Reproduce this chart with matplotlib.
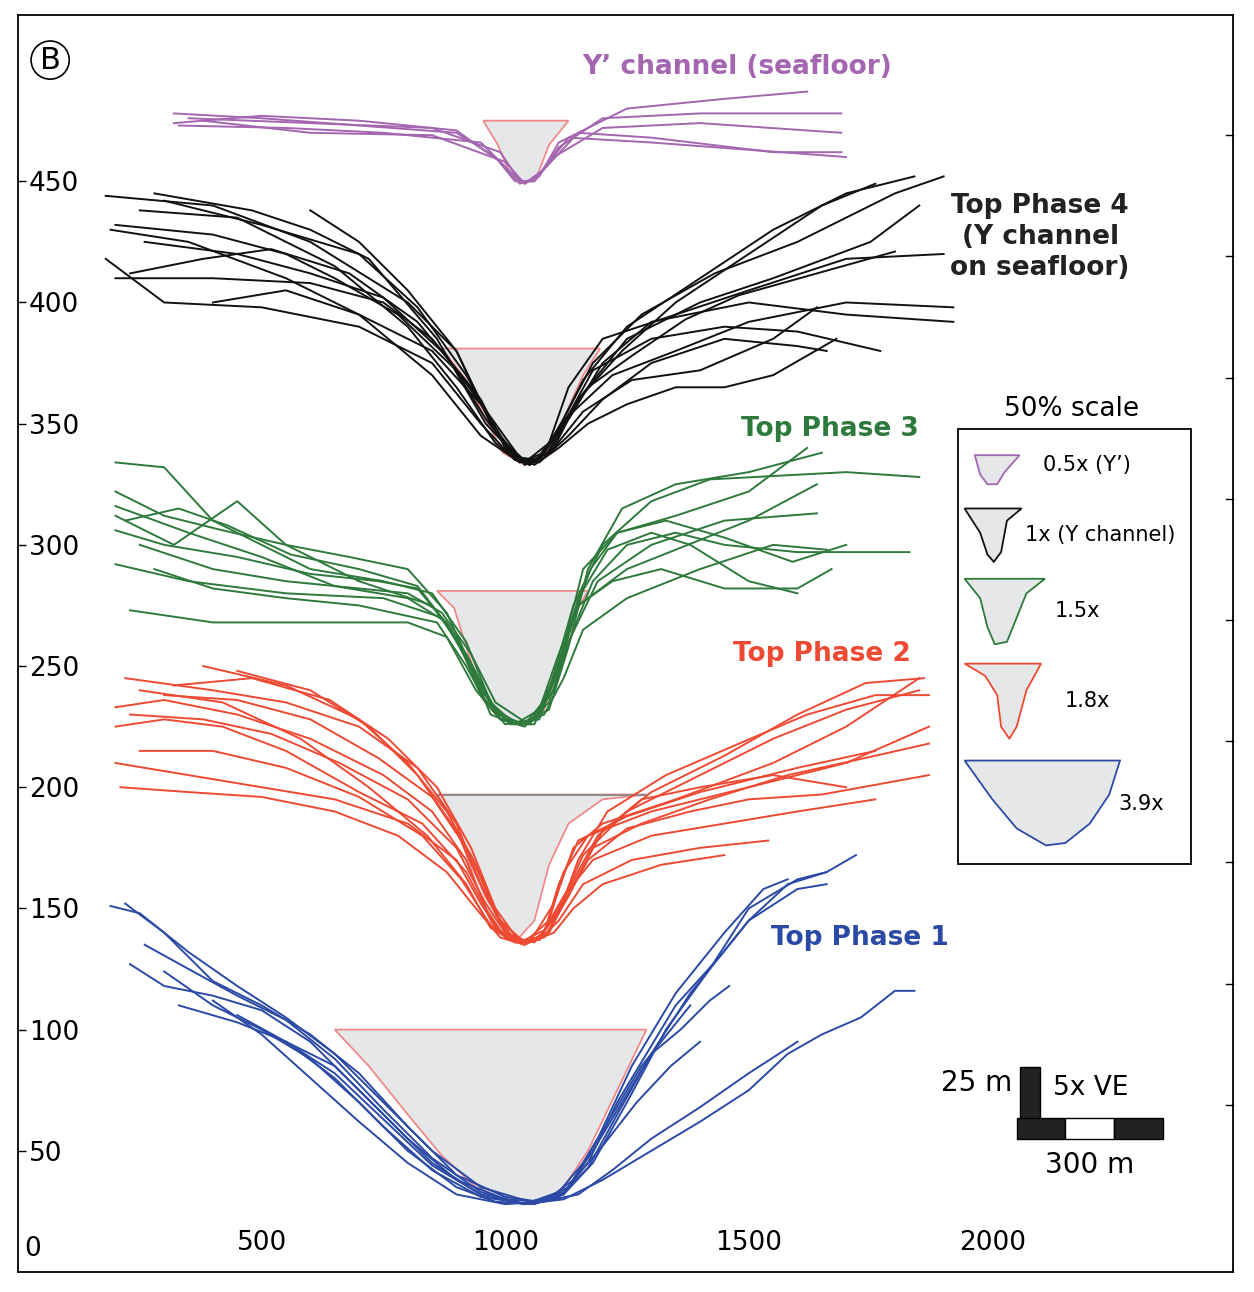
import matplotlib
matplotlib.use("Agg")
import matplotlib.pyplot as plt
from matplotlib.patches import Polygon, Rectangle

# ---------------- data ----------------
chan_yp = [(955,475),(985,465),(1010,453),(1040,449),(1065,452),(1090,465),(1130,475)]
chan_p4 = [(870,381),(920,368),(960,352),(995,338),(1040,333),(1085,338),(1120,352),(1160,370),(1195,381)]
chan_p3 = [(860,281),(895,274),(925,255),(955,236),(990,228),(1040,226),(1080,232),(1110,250),(1145,272),(1170,281)]
chan_p2 = [(860,197),(900,185),(940,160),(975,142),(1020,136),(1060,145),(1090,168),(1130,185),(1200,195),(1290,197)]
chan_p1 = [(650,100),(720,85),(800,65),(870,48),(940,35),(1010,29),(1060,28),(1110,32),(1170,50),(1230,75),(1290,100)]

yp_curves = [
 [(320,478),(500,476),(700,473),(900,470),(980,460),(1020,450),(1060,450),(1100,460),(1200,472),(1400,474),(1690,470)],
 [(320,474),(500,477),(700,475),(900,471),(990,458),(1030,449),(1070,452),(1110,466),(1250,480),(1450,484),(1620,487)],
 [(330,473),(550,472),(750,470),(950,466),(1010,454),(1040,449),(1075,454),(1130,468),(1300,466),(1500,463),(1700,460)],
 [(350,476),(600,474),(850,472),(990,462),(1030,450),(1060,450),(1110,464),(1200,476),(1400,478),(1690,478)],
 [(380,475),(600,470),(850,469),(1000,458),(1040,449),(1080,455),(1150,470),(1300,468),(1550,462),(1690,462)],
]
p4_curves = [
 [(180,444),(400,440),(600,425),(800,400),(900,380),(960,355),(1010,337),(1050,333),(1100,340),(1150,360),(1250,385),(1400,400),(1550,410),(1750,425),(1850,440)],
 [(200,410),(400,410),(600,408),(750,400),(850,385),(950,360),(1000,340),(1040,334),(1090,342),(1130,365),(1200,385),(1350,395),(1500,405),(1700,418),(1900,420)],
 [(190,430),(350,425),(550,410),(700,395),(850,370),(950,345),(1030,334),(1080,338),(1140,355),(1220,370),(1350,380),(1500,392),(1700,400),(1920,398)],
 [(250,438),(450,435),(650,415),(800,390),(900,365),(980,342),(1030,334),(1070,336),(1110,348),(1160,368),(1250,390),(1400,410),(1550,430),(1700,445),(1840,452)],
 [(180,418),(300,400),(500,398),(700,390),(850,375),(950,350),(1020,335),(1060,334),(1120,350),(1180,372),(1300,385),(1450,390),(1600,388),(1770,380)],
 [(300,442),(500,432),(700,420),(820,398),(920,370),(990,345),(1040,333),(1080,336),(1140,355),(1200,375),(1300,392),(1500,400),(1700,395),(1920,392)],
 [(260,425),(450,420),(600,412),(750,402),(880,378),(960,352),(1020,336),(1070,334),(1130,345),(1200,360),(1300,375),(1450,385),(1600,382),(1660,380)],
 [(400,400),(550,405),(700,395),(850,380),(950,358),(1010,338),(1050,333),(1100,340),(1160,355),(1260,368),(1400,372),(1550,385),(1640,398)],
 [(200,432),(400,428),(550,420),(650,410),(780,395),(900,372),(980,350),(1030,336),(1070,335),(1120,352),(1180,375),(1280,395),(1430,412),(1600,425),(1800,445),(1900,452)],
 [(230,412),(380,418),(520,422),(680,412),(820,392),(930,365),(1000,342),(1045,334),(1090,338),(1150,360),(1240,380),(1350,400),(1500,420),(1650,440),(1760,449)],
 [(280,445),(480,438),(600,430),(720,418),(860,385),(960,350),(1030,335),(1060,334),(1100,345),(1170,365),(1260,378),(1370,393),(1480,403),(1640,412),(1800,421)],
 [(600,438),(700,425),(800,405),(900,380),(970,350),(1020,337),(1060,333),(1110,340),(1170,350),(1250,358),(1350,365),(1450,365),(1550,370),(1680,385)],
]
p3_curves = [
 [(200,334),(300,332),(400,310),(500,300),(600,290),(750,285),(850,280),(920,260),(970,235),(1020,226),(1070,228),(1110,250),(1160,290),(1230,305),(1350,312),(1500,322),(1620,340)],
 [(200,316),(350,305),(500,295),(650,283),(800,278),(880,268),(940,245),(990,228),(1040,225),(1090,235),(1130,260),(1190,285),(1300,300),(1450,310),(1640,313)],
 [(200,312),(320,300),(450,318),(550,300),(700,285),(850,275),(920,255),(980,232),(1030,226),(1080,230),(1120,245),(1160,265),(1250,278),(1400,290),(1550,300),(1660,298)],
 [(200,292),(350,285),(550,280),(750,278),(870,270),(930,250),(970,230),(1020,226),(1070,232),(1110,255),(1150,275),(1250,290),(1400,302),(1500,310),(1640,325)],
 [(230,273),(400,268),(600,268),(800,268),(880,262),(940,240),(990,228),(1050,226),(1100,240),(1140,265),(1180,285),(1250,300),(1350,305),(1450,300),(1600,297),(1830,297)],
 [(200,306),(300,300),(450,295),(600,288),(740,285),(820,282),(890,265),(950,240),(1000,228),(1050,226),(1090,240),(1140,275),(1200,300),(1300,318),(1420,327),(1700,330),(1850,328)],
 [(200,322),(300,312),(420,306),(550,300),(680,295),(800,290),(880,272),(930,250),(985,230),(1040,226),(1090,238),(1130,265),(1175,290),(1230,305),(1330,310),(1450,303),(1590,293),(1700,300)],
 [(220,310),(330,315),(430,308),(560,296),(700,290),(820,283),(900,262),(950,238),(1010,226),(1060,226),(1110,248),(1150,278),(1210,298),(1300,305),(1380,300),(1500,285),(1600,280)],
 [(280,290),(400,282),(550,278),(700,275),(860,268),(920,250),(960,235),(1000,226),(1060,228),(1110,250),(1150,275),(1220,285),(1320,290),(1450,282),(1600,282),(1670,290)],
 [(250,300),(400,290),(550,285),(700,282),(800,280),(870,272),(930,255),(980,235),(1040,227),(1090,232),(1130,258),(1170,290),(1240,315),(1350,325),(1500,330),(1650,338)],
]
p2_curves = [
 [(200,233),(300,236),(450,230),(600,220),(750,205),(850,190),(920,170),(960,150),(1000,138),(1040,135),(1080,140),(1110,160),(1150,178),(1250,188),(1400,198),(1600,208),(1760,215)],
 [(200,210),(350,205),(500,200),(650,195),(800,185),(900,170),(950,152),(990,140),(1040,136),(1090,145),(1120,165),(1170,180),(1300,190),(1500,200),(1700,210),(1870,225)],
 [(220,245),(400,240),(550,235),(700,225),(820,208),(900,185),(950,160),(1000,140),(1050,136),(1100,152),(1140,175),(1200,185),(1350,195),(1550,210),(1700,225),(1850,245)],
 [(200,225),(300,228),(420,225),(550,215),(700,198),(830,185),(920,165),(980,142),(1030,136),(1080,141),(1120,155),(1180,170),(1300,180),(1450,185),(1600,190),(1760,195)],
 [(300,238),(450,236),(600,228),(740,212),(850,196),(930,172),(980,148),(1020,137),(1070,137),(1110,150),(1160,172),(1250,190),(1400,205),(1550,220),(1700,232),(1850,240)],
 [(380,250),(550,242),(700,228),(800,210),(880,190),(940,168),(990,145),(1040,136),(1090,140),(1140,160),(1200,182),(1300,198),(1450,213),(1600,230),(1740,243),(1860,245)],
 [(250,240),(420,235),(580,220),(720,200),(840,180),(920,160),(970,142),(1020,136),(1070,137),(1110,145),(1160,160),(1260,170),(1400,175),(1540,178)],
 [(210,200),(350,198),(500,196),(650,190),(780,180),(880,165),(940,150),(990,138),(1040,135),(1090,140),(1130,158),(1190,180),(1280,195),(1400,200),(1550,205),(1700,200)],
 [(250,215),(400,215),(550,208),(700,196),(830,180),(910,162),(970,143),(1020,136),(1070,138),(1120,152),(1170,170),(1250,183),(1380,190),(1500,195),(1650,197),(1870,205)],
 [(450,248),(600,240),(720,225),(820,205),(900,182),(960,155),(1010,138),(1060,136),(1110,148),(1150,170),(1210,190),(1330,205),(1480,218),(1620,230),(1760,238),(1870,238)],
 [(230,230),(380,228),(520,222),(660,210),(800,195),(900,175),(960,152),(1000,140),(1050,136),(1100,140),(1140,150),(1200,160),(1320,168),(1450,172)],
 [(320,242),(480,245),(640,236),(760,220),(860,200),(930,175),(980,150),(1030,136),(1080,138),(1130,155),(1180,175),(1280,185),(1420,195),(1580,205),(1760,213),(1870,218)],
]
p1_curves = [
 [(190,151),(250,148),(350,132),(450,118),(550,105),(650,90),(750,70),(850,50),(950,35),(1050,29),(1120,32),(1180,45),(1250,70),(1330,100),(1420,125),(1500,150),(1600,162),(1660,165),(1720,172)],
 [(220,152),(300,140),(400,120),(500,110),(600,98),(700,82),(800,60),(900,40),(1000,31),(1070,29),(1130,35),(1190,55),(1260,85),(1350,115),(1450,140),(1530,158),(1580,162)],
 [(230,127),(300,118),(400,114),(500,108),(600,95),(700,75),(800,55),(900,38),(1000,30),(1070,29),(1120,33),(1170,45),(1230,70),(1290,90),(1350,110),(1440,130),(1500,145),(1600,158),(1660,160)],
 [(300,124),(400,110),(500,100),(600,88),(700,70),(800,50),(900,35),(980,29),(1060,28),(1120,32),(1180,50),(1240,70),(1300,90),(1360,100),(1420,112),(1460,118)],
 [(400,112),(500,98),(600,80),(700,62),(800,45),(900,32),(1000,28),(1080,29),(1140,38),(1200,52),(1270,70),(1340,85),(1400,95)],
 [(330,110),(450,103),(550,95),(650,80),(750,60),(850,42),(950,31),(1050,28),(1150,32),(1220,42),(1300,55),(1400,68),(1500,82),(1600,95)],
 [(550,95),(650,85),(750,65),(850,45),(950,32),(1040,28),(1120,30),(1200,38),(1300,50),(1400,62),(1500,75),(1580,90),(1650,98),(1730,105),(1800,116),(1840,116)],
 [(450,106),(550,95),(650,82),(750,63),(850,44),(950,32),(1040,28),(1110,33),(1160,45),(1220,65),(1280,85),(1340,100),(1380,110)],
 [(260,135),(350,125),(450,114),(550,104),(650,88),(750,67),(850,47),(950,33),(1040,28),(1110,31),(1170,43),(1230,65),(1300,90),(1380,115),(1440,130),(1500,145),(1580,160),(1660,165)],
]

x_ticks = [500, 1000, 1500, 2000]
y_ticks = [50, 100, 150, 200, 250, 300, 350, 400, 450]

PURPLE, BLACK, GREEN, RED, BLUE = '#a466b0', '#111111', '#2e7a3c', '#ee4a33', '#2b4aa6'
FILL, EDGE = '#e6e7e8', '#f08a8a'

fig = plt.figure(figsize=(12.54, 12.92), dpi=100)
ax = fig.add_axes([18/1254, 1-1272/1292, (1233-18)/1254, (1272-15)/1292])
ax.set_xlim(0, 2494)
ax.set_ylim(0, 518.6)

def chan(pts, edge=EDGE, topcol=None):
    ax.add_patch(Polygon(pts, closed=True, facecolor=FILL, edgecolor=edge, lw=1.3, zorder=1))
    if topcol:
        ax.plot([pts[0][0], pts[-1][0]], [pts[0][1], pts[-1][1]], color=topcol, lw=1.3, zorder=1.5)

for c in [chan_yp, chan_p4, chan_p3, chan_p1]:
    chan(c)
chan(chan_p2, topcol='#888888')

for curves, col in [(yp_curves, PURPLE), (p4_curves, BLACK), (p3_curves, GREEN), (p2_curves, RED), (p1_curves, BLUE)]:
    for cv in curves:
        xs = [p[0] for p in cv]; ys = [p[1] for p in cv]
        ax.plot(xs, ys, color=col, lw=1.4, zorder=2)

ax.set_xticks(x_ticks)
ax.set_xticklabels([str(v) for v in x_ticks])
ax.tick_params(axis='x', direction='in', pad=-30, labelsize=19, length=0)
ax.set_yticks(y_ticks)
ax.set_yticklabels([str(v) for v in y_ticks])
ax.tick_params(axis='y', direction='in', pad=-8, labelsize=19, length=6, width=1)
for lab in ax.get_yticklabels():
    lab.set_horizontalalignment('left')
ax.text(12, 4, '0', fontsize=19, va='bottom', ha='left')
for v in [469, 419, 369, 319, 269, 219, 169, 119, 69]:
    ax.plot([2494-14, 2494], [v, v], color='black', lw=1, clip_on=False)

ax.text(66, 500, 'B', fontsize=22, ha='center', va='center',
        bbox=dict(boxstyle='circle,pad=0.15', fc='white', ec='black', lw=1.2))

fs = 19
ax.text(1476, 497, 'Y\u2019 channel (seafloor)', color=PURPLE, fontsize=fs, fontweight='bold', ha='center', va='center')
ax.text(2098, 427, 'Top Phase 4\n(Y channel\non seafloor)', color='#222222', fontsize=fs, fontweight='bold', ha='center', va='center', linespacing=1.25)
ax.text(1666, 348, 'Top Phase 3', color=GREEN, fontsize=fs, fontweight='bold', ha='center', va='center')
ax.text(1650, 255, 'Top Phase 2', color=RED, fontsize=fs, fontweight='bold', ha='center', va='center')
ax.text(1728, 137.6, 'Top Phase 1', color=BLUE, fontsize=fs, fontweight='bold', ha='center', va='center')

ax.add_patch(Rectangle((1929, 168.5), 479, 179.2, fill=False, ec='black', lw=1.3, zorder=3))
ax.text(2163, 356, '50% scale', fontsize=19, ha='center', va='center')
leg_shapes = [
    ([(1964,337),(1975,329),(1990,325),(2010,325),(2025,330),(2056,337)], PURPLE),
    ([(1943,315),(1975,305),(1990,296),(2003,293),(2018,297),(2030,310),(2060,315)], BLACK),
    ([(1943,286),(1975,278),(1990,266),(2005,259),(2030,260),(2050,270),(2070,280),(2108,286)], GREEN),
    ([(1943,251),(1985,246),(2010,238),(2018,225),(2035,220),(2050,225),(2070,240),(2100,251)], RED),
    ([(1943,211),(2000,195),(2050,183),(2110,176),(2150,177),(2200,185),(2240,197),(2262,211)], BLUE),
]
for pts, col in leg_shapes:
    ax.add_patch(Polygon(pts, closed=True, facecolor=FILL, edgecolor=col, lw=1.3, zorder=3))
ax.text(2104, 333, '0.5x (Y\u2019)', fontsize=15, va='center')
ax.text(2067, 304, '1x (Y channel)', fontsize=15, va='center')
ax.text(2128, 272.7, '1.5x', fontsize=15, va='center')
ax.text(2149, 235.6, '1.8x', fontsize=15, va='center')
ax.text(2258, 193, '3.9x', fontsize=15, va='center')

ax.add_patch(Rectangle((2056, 59), 41, 25.6, fc='#222222', ec='black'))
ax.text(2040, 78, '25 m', fontsize=20, ha='right', va='center')
ax.text(2125, 76, '5x VE', fontsize=19, ha='left', va='center')
ax.add_patch(Rectangle((2050, 54.8), 100, 8.6, fc='#222222', ec='black'))
ax.add_patch(Rectangle((2150, 54.8), 100, 8.6, fc='white', ec='black'))
ax.add_patch(Rectangle((2250, 54.8), 100, 8.6, fc='#222222', ec='black'))
ax.text(2200, 44, '300 m', fontsize=20, ha='center', va='center')

for s in ax.spines.values():
    s.set_linewidth(1.3)

fig.savefig('out.png', dpi=100)
